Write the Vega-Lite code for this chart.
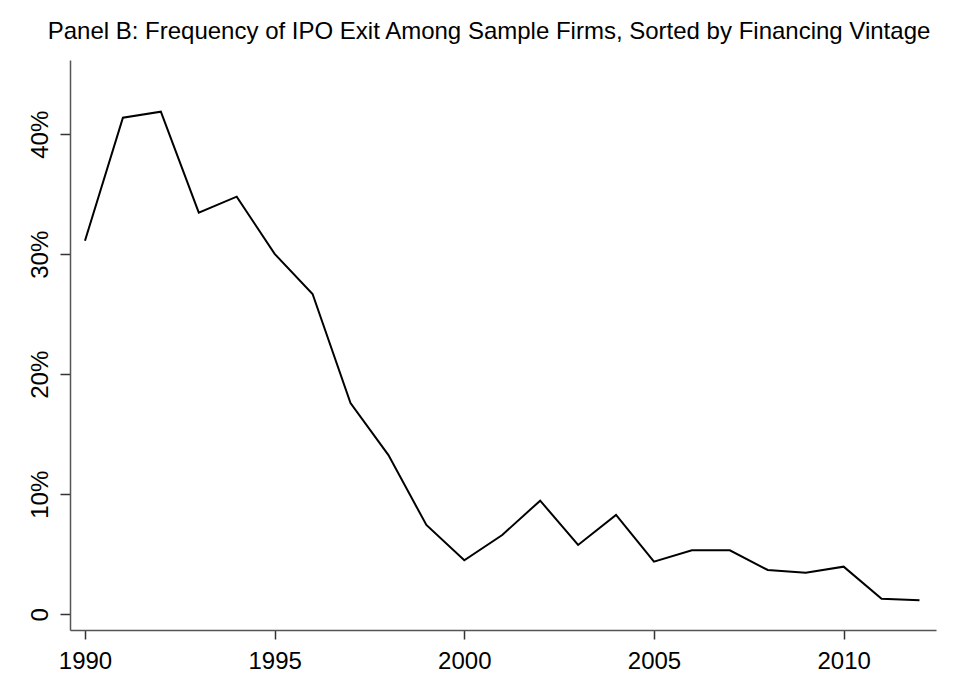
{
  "$schema": "https://vega.github.io/schema/vega-lite/v6.json",
  "width": 866,
  "height": 570,
  "autosize": "none",
  "padding": {"left": 70, "top": 60, "right": 21, "bottom": 68},
  "background": "white",
  "config": {"view": {"stroke": null}, "font": "Liberation Sans"},
  "title": {
    "text": "Panel B: Frequency of IPO Exit Among Sample Firms, Sorted by Financing Vintage",
    "font": "Liberation Sans",
    "fontSize": 24,
    "fontWeight": "normal",
    "color": "#000000",
    "anchor": "middle",
    "baseline": "alphabetic",
    "dx": -14,
    "dy": 22,
    "offset": 19
  },
  "data": {
    "values": [
      {"year": 1990, "share": 0.3113},
      {"year": 1991, "share": 0.4138},
      {"year": 1992, "share": 0.4188},
      {"year": 1993, "share": 0.3347},
      {"year": 1994, "share": 0.348},
      {"year": 1995, "share": 0.3003},
      {"year": 1996, "share": 0.2669},
      {"year": 1997, "share": 0.176},
      {"year": 1998, "share": 0.1327},
      {"year": 1999, "share": 0.0744},
      {"year": 2000, "share": 0.045},
      {"year": 2001, "share": 0.0661},
      {"year": 2002, "share": 0.0947},
      {"year": 2003, "share": 0.0578},
      {"year": 2004, "share": 0.0828},
      {"year": 2005, "share": 0.0439},
      {"year": 2006, "share": 0.0533},
      {"year": 2007, "share": 0.0533},
      {"year": 2008, "share": 0.0369},
      {"year": 2009, "share": 0.0347},
      {"year": 2010, "share": 0.0397},
      {"year": 2011, "share": 0.013},
      {"year": 2012, "share": 0.0117}
    ]
  },
  "mark": {"type": "line", "color": "#000000", "strokeWidth": 2, "clip": false},
  "encoding": {
    "x": {
      "field": "year",
      "type": "quantitative",
      "scale": {"domain": [1989.605, 2012.435], "nice": false, "zero": false},
      "axis": {
        "title": null,
        "values": [1990, 1995, 2000, 2005, 2010],
        "format": "d",
        "grid": false,
        "domainColor": "#555555",
        "domainWidth": 1.5,
        "tickColor": "#333333",
        "tickWidth": 1.5,
        "tickSize": 9,
        "labelFontSize": 24,
        "labelColor": "#000000",
        "labelPadding": 10,
        "labelFont": "Liberation Sans"
      }
    },
    "y": {
      "field": "share",
      "type": "quantitative",
      "scale": {"domain": [-0.0131, 0.4619], "nice": false, "zero": false},
      "axis": {
        "title": null,
        "values": [0, 0.1, 0.2, 0.3, 0.4],
        "labelExpr": "datum.value == 0 ? '0' : format(datum.value, '.0%')",
        "grid": false,
        "domainColor": "#555555",
        "domainWidth": 1.5,
        "tickColor": "#333333",
        "tickWidth": 1.5,
        "tickSize": 10,
        "labelAngle": -90,
        "labelAlign": "center",
        "labelBaseline": "bottom",
        "labelFontSize": 24,
        "labelColor": "#000000",
        "labelPadding": 8,
        "labelFont": "Liberation Sans"
      }
    }
  }
}
